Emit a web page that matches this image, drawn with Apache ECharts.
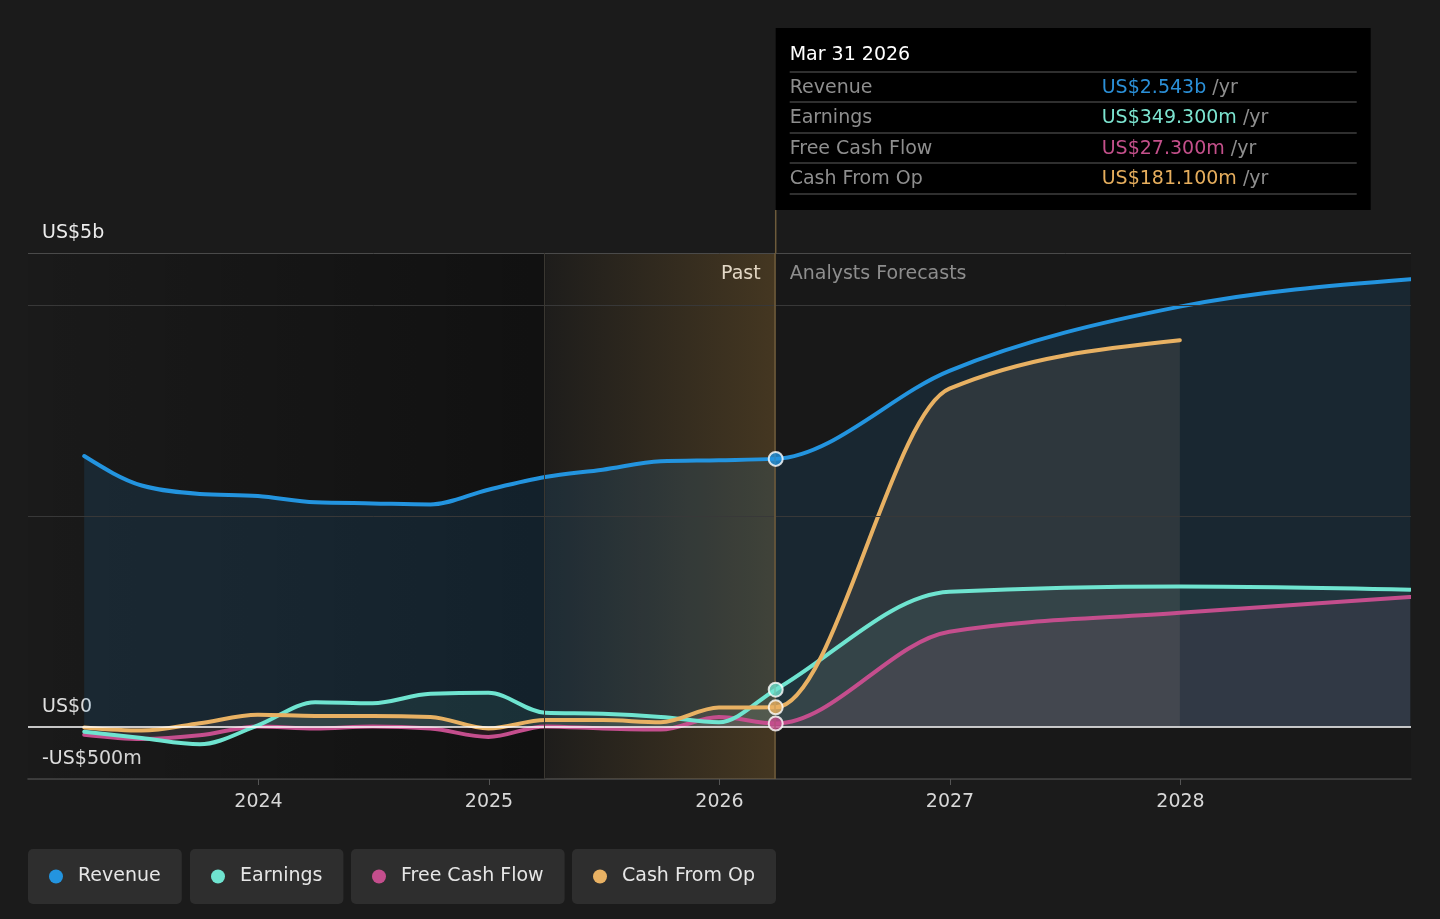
<!DOCTYPE html>
<html>
<head>
<meta charset="utf-8">
<title>Revenue, Earnings and Cash Flow</title>
<script src="https://cdn.jsdelivr.net/npm/echarts@6/dist/echarts.min.js"></script>
<style>
  html, body { margin: 0; padding: 0; background: #1b1b1b; }
  #main { width: 1440px; height: 919px; }
</style>
</head>
<body>
<div id="main"></div>
<script>
// values in US$ billions
var pastDates = ['2023-03-31', '2023-06-30', '2023-09-30', '2023-12-31', '2024-03-31', '2024-06-30',
                 '2024-09-30', '2024-12-31', '2025-03-31', '2025-06-30', '2025-09-30', '2025-12-31', '2026-03-31'];
var revenuePast  = [2.57, 2.29, 2.21, 2.19, 2.13, 2.12, 2.11, 2.25, 2.37, 2.44, 2.52, 2.53, 2.543];
var earningsPast = [-0.05, -0.11, -0.17, 0.01, 0.23, 0.22, 0.31, 0.32, 0.13, 0.12, 0.09, 0.04, 0.3493];
var fcfPast      = [-0.08, -0.12, -0.085, 0.0, -0.02, 0.0, -0.02, -0.10, 0.0, -0.02, -0.03, 0.09, 0.0273];
var cfoPast      = [-0.01, -0.04, 0.03, 0.11, 0.10, 0.10, 0.09, -0.02, 0.06, 0.06, 0.04, 0.18, 0.1811];

// analyst forecasts (after the latest reported quarter)
var forecastDates    = ['2026-12-31', '2027-12-31', '2028-12-31'];
var revenueForecast  = [3.38, 3.99, 4.25];
var earningsForecast = [1.28, 1.33, 1.30];
var fcfForecast      = [0.90, 1.08, 1.23];
var cfoForecast      = [3.21, 3.67];

var yearTicks = [2024, 2025, 2026, 2027, 2028];
var yLabelValues = [-0.5, 0, 4.5];
var yLabelTexts = ['-US$500m', 'US$0', 'US$5b'];
var gridLineValues = [2, 4, 4.5];

var FONT = 'DejaVu Sans';
var C_REV = '#2394df', C_EARN = '#6fe4d0', C_FCF = '#c44e8d', C_CFO = '#e8b163';

function toYear(s) {
  var d = new Date(s + 'T00:00:00Z');
  var y = d.getUTCFullYear();
  var a = Date.UTC(y, 0, 1), b = Date.UTC(y + 1, 0, 1);
  return y + (d.getTime() - a) / (b - a);
}
function pairs(dates, vals) {
  return vals.map(function (v, i) { return [toYear(dates[i]), v]; });
}

var splitYear = toYear(pastDates[pastDates.length - 1]);
var bandStart = toYear(pastDates[pastDates.length - 5]);

// monotone cubic (same maths as d3 curveMonotoneX) on pixel points
function monotonePath(p) {
  var n = p.length, i, m = [];
  var d = 'M' + p[0][0] + ',' + p[0][1];
  if (n < 3) {
    for (i = 1; i < n; i++) d += ' L' + p[i][0] + ',' + p[i][1];
    return d;
  }
  function sgn(x) { return x < 0 ? -1 : 1; }
  for (i = 1; i < n - 1; i++) {
    var h0 = p[i][0] - p[i - 1][0], h1 = p[i + 1][0] - p[i][0];
    var s0 = (p[i][1] - p[i - 1][1]) / h0, s1 = (p[i + 1][1] - p[i][1]) / h1;
    var q = (s0 * h1 + s1 * h0) / (h0 + h1);
    m[i] = (sgn(s0) + sgn(s1)) * Math.min(Math.abs(s0), Math.abs(s1), 0.5 * Math.abs(q)) || 0;
  }
  m[0] = (3 * (p[1][1] - p[0][1]) / (p[1][0] - p[0][0]) - m[1]) / 2;
  m[n - 1] = (3 * (p[n - 1][1] - p[n - 2][1]) / (p[n - 1][0] - p[n - 2][0]) - m[n - 2]) / 2;
  for (i = 0; i < n - 1; i++) {
    var dx = (p[i + 1][0] - p[i][0]) / 3;
    d += ' C' + (p[i][0] + dx) + ',' + (p[i][1] + dx * m[i]) + ' ' +
         (p[i + 1][0] - dx) + ',' + (p[i + 1][1] - dx * m[i + 1]) + ' ' +
         p[i + 1][0] + ',' + p[i + 1][1];
  }
  return d;
}

function curveSeries(name, color, pts, fill) {
  return {
    name: name, type: 'custom', data: pts, silent: true, clip: true,
    encode: { x: 0, y: 1 },
    itemStyle: { color: color },
    renderItem: function (params, api) {
      if (params.dataIndex !== 0) return null;
      var px = pts.map(function (q) { return api.coord(q); });
      var base = api.coord([pts[0][0], 0])[1];
      var curve = monotonePath(px);
      var area = curve + ' L' + px[px.length - 1][0] + ',' + base + ' L' + px[0][0] + ',' + base + ' Z';
      return {
        type: 'group',
        children: [
          { type: 'path', z2: 1, shape: { pathData: area }, style: { fill: fill, stroke: 'none' } },
          { type: 'path', z2: 20, shape: { pathData: curve },
            style: { fill: 'none', stroke: color, lineWidth: 4, lineJoin: 'round', lineCap: 'round' } }
        ]
      };
    }
  };
}
function lastPoint(name, color, vals) {
  return {
    name: name, type: 'scatter', z: 5,
    data: [[splitYear, vals[vals.length - 1]]],
    symbolSize: 14,
    itemStyle: { color: color, borderColor: '#ffffff', borderWidth: 2 },
    silent: true
  };
}

var gridMarks = gridLineValues.map(function (v) {
  return { yAxis: v, lineStyle: { color: v === 4.5 ? '#4a4a4a' : '#383838', width: 1, type: 'solid' } };
});
gridMarks.push({ yAxis: 0, lineStyle: { color: '#ffffff', width: 1.5, type: 'solid' } });
gridMarks.push({ xAxis: bandStart, lineStyle: { color: '#3a3731', width: 1, type: 'solid' } });
gridMarks.push({ xAxis: splitYear, lineStyle: { color: '#6e5b3b', width: 1.5, type: 'solid' } });

function legendBox(name, left) {
  return {
    data: [name], left: left, top: 849, icon: 'circle', itemWidth: 14, itemHeight: 14,
    padding: [18, 21, 18, 21], backgroundColor: '#2e2e2e', borderRadius: 5,
    selectedMode: false,
    textStyle: { color: '#e6e6e6', fontSize: 19, fontFamily: FONT, padding: [0, 0, 0, 10] }
  };
}

var revenueAll  = pairs(pastDates, revenuePast).concat(pairs(forecastDates, revenueForecast));
var earningsAll = pairs(pastDates, earningsPast).concat(pairs(forecastDates, earningsForecast));
var fcfAll      = pairs(pastDates, fcfPast).concat(pairs(forecastDates, fcfForecast));
var cfoAll      = pairs(pastDates, cfoPast).concat(pairs(forecastDates.slice(0, cfoForecast.length), cfoForecast));

var chart = echarts.init(document.getElementById('main'));
var option = {
  backgroundColor: '#1b1b1b',
  animation: false,
  textStyle: { fontFamily: FONT },
  grid: { left: 28, right: 29, top: 253, bottom: 140, containLabel: false },
  legend: [
    legendBox('Revenue', 28),
    legendBox('Earnings', 190),
    legendBox('Free Cash Flow', 351),
    legendBox('Cash From Op', 572)
  ],
  xAxis: {
    type: 'value', min: 2023, max: 2029, interval: 1,
    axisLine: { onZero: false, lineStyle: { color: '#4a4a4a', width: 1.5 } },
    axisTick: { show: true, length: 6, customValues: yearTicks, lineStyle: { color: '#555' } },
    axisLabel: { customValues: yearTicks, color: '#d8d8d8', fontSize: 19, margin: 14,
                 formatter: function (v) { return String(Math.round(v)); } },
    splitLine: { show: false }
  },
  yAxis: {
    type: 'value', min: -0.5, max: 4.5, interval: 0.5,
    axisLine: { show: false }, axisTick: { show: false }, splitLine: { show: false },
    axisLabel: {
      inside: true, margin: 14, customValues: yLabelValues,
      color: '#ececec', fontSize: 19, verticalAlign: 'bottom', padding: [0, 0, 10, 0],
      formatter: function (v) {
        var i = yLabelValues.indexOf(Math.round(v * 10) / 10);
        return i >= 0 ? yLabelTexts[i] : '';
      }
    }
  },
  series: [
    {
      type: 'line', data: pairs(pastDates, revenuePast), symbol: 'none', silent: true,
      lineStyle: { opacity: 0 }, z: 1,
      markArea: {
        silent: true,
        data: [
          [{ xAxis: 2023, itemStyle: { color: { type: 'linear', x: 0, y: 0, x2: 1, y2: 0,
              colorStops: [{ offset: 0, color: 'rgba(0,0,0,0.04)' }, { offset: 1, color: 'rgba(0,0,0,0.38)' }] } } },
           { xAxis: bandStart }],
          [{ xAxis: bandStart, itemStyle: { color: { type: 'linear', x: 0, y: 0, x2: 1, y2: 0,
              colorStops: [{ offset: 0, color: 'rgba(180,130,50,0.02)' }, { offset: 1, color: 'rgba(180,130,50,0.27)' }] } } },
           { xAxis: splitYear }],
          [{ xAxis: splitYear, itemStyle: { color: 'rgba(0,0,0,0.08)' } }, { xAxis: 2029 }]
        ]
      },
      markLine: { silent: true, symbol: ['none', 'none'], label: { show: false }, data: gridMarks }
    },
    curveSeries('Revenue', C_REV, revenueAll, 'rgba(35,148,223,0.13)'),
    curveSeries('Free Cash Flow', C_FCF, fcfAll, 'rgba(196,78,141,0.11)'),
    curveSeries('Earnings', C_EARN, earningsAll, 'rgba(111,228,208,0.08)'),
    curveSeries('Cash From Op', C_CFO, cfoAll, 'rgba(215,195,160,0.11)'),
    lastPoint('Revenue', C_REV, revenuePast),
    lastPoint('Earnings', C_EARN, earningsPast),
    lastPoint('Cash From Op', C_CFO, cfoPast),
    lastPoint('Free Cash Flow', C_FCF, fcfPast)
  ]
};
chart.setOption(option);

// hover box for the latest reported quarter and the past / forecast captions
var months = ['Jan', 'Feb', 'Mar', 'Apr', 'May', 'Jun', 'Jul', 'Aug', 'Sep', 'Oct', 'Nov', 'Dec'];
var lastDate = pastDates[pastDates.length - 1].split('-');
var title = months[+lastDate[1] - 1] + ' ' + (+lastDate[2]) + ' ' + lastDate[0];
function money(v) {
  return v >= 1 ? 'US$' + v.toFixed(3) + 'b' : 'US$' + (v * 1000).toFixed(3) + 'm';
}
var rows = [
  ['Revenue', revenuePast, '#2b90d8'],
  ['Earnings', earningsPast, '#7ce4d0'],
  ['Free Cash Flow', fcfPast, '#c4508b'],
  ['Cash From Op', cfoPast, '#e6ae5d']
];
var sx = chart.convertToPixel({ gridIndex: 0 }, [splitYear, 0])[0];
var topY = chart.convertToPixel({ gridIndex: 0 }, [splitYear, 4.5])[1];
var boxW = 595, boxTop = 28, boxH = 182, pad = 14;
var els = [
  { type: 'line', shape: { x1: sx, y1: boxTop + boxH, x2: sx, y2: topY }, style: { stroke: '#6e5b3b', lineWidth: 1.5 }, silent: true },
  { type: 'rect', shape: { x: sx, y: boxTop, width: boxW, height: boxH }, style: { fill: '#000000' }, silent: true },
  { type: 'text', x: sx + pad, y: 55, style: { text: title, fill: '#ffffff', fontSize: 19, fontFamily: FONT, verticalAlign: 'middle' } },
  { type: 'text', x: sx - 15, y: topY + 21, style: { text: 'Past', fill: '#f0f0f0', fontSize: 19, fontFamily: FONT, align: 'right', verticalAlign: 'middle' } },
  { type: 'text', x: sx + pad, y: topY + 21, style: { text: 'Analysts Forecasts', fill: '#9a9a9a', fontSize: 19, fontFamily: FONT, verticalAlign: 'middle' } }
];
var sepY = [72, 102, 133, 163, 194];
sepY.forEach(function (y) {
  els.push({ type: 'line', shape: { x1: sx + pad, y1: y, x2: sx + boxW - pad, y2: y }, style: { stroke: '#3f3f3f', lineWidth: 1.5 }, silent: true });
});
rows.forEach(function (r, i) {
  var cy = (sepY[i] + sepY[i + 1]) / 2 + 1;
  els.push({ type: 'text', x: sx + pad, y: cy, style: { text: r[0], fill: '#8e8e8e', fontSize: 19, fontFamily: FONT, verticalAlign: 'middle' } });
  els.push({ type: 'text', x: sx + 326, y: cy, style: {
    text: '{v|' + money(r[1][r[1].length - 1]) + '}{u| /yr}', verticalAlign: 'middle', fontFamily: FONT,
    rich: { v: { fill: r[2], fontSize: 19, fontFamily: FONT }, u: { fill: '#8e8e8e', fontSize: 19, fontFamily: FONT } }
  } });
});
chart.setOption({ graphic: els });
</script>
</body>
</html>
